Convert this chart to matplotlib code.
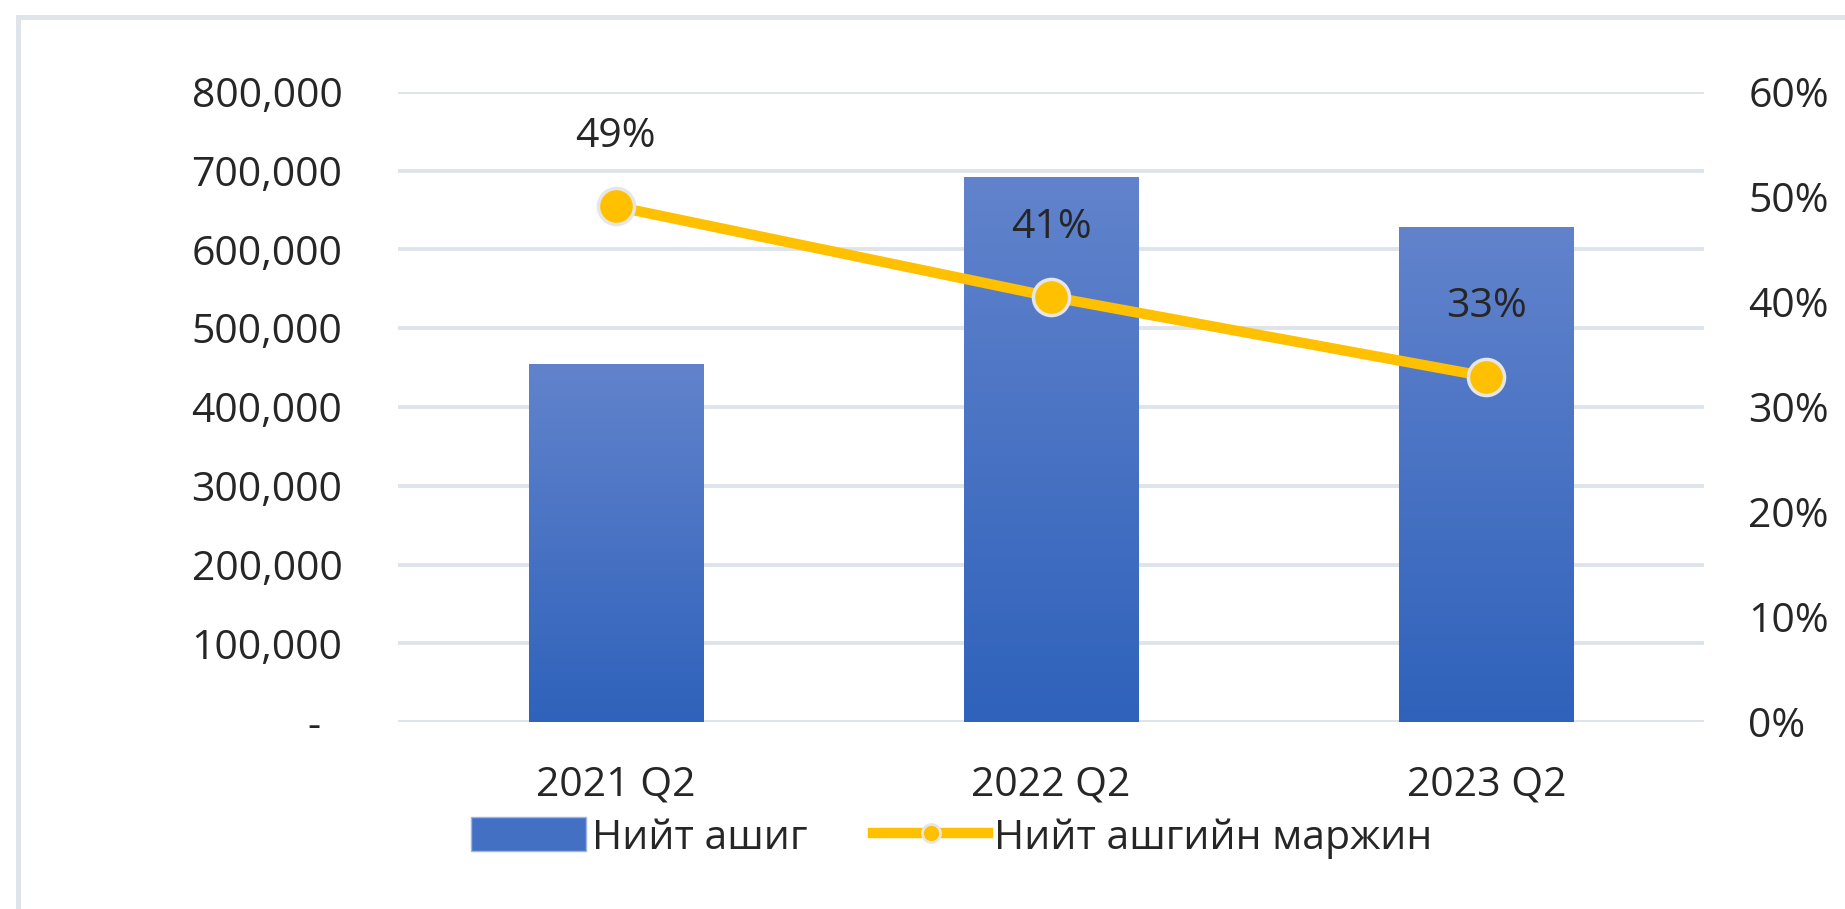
import matplotlib
matplotlib.use("Agg")
import matplotlib.pyplot as plt
import numpy as np
from matplotlib.patches import Rectangle
from matplotlib.lines import Line2D
from matplotlib.colors import LinearSegmentedColormap

plt.rcParams['font.family'] = ['Open Sans', 'DejaVu Sans']

# data
categories = ['2021 Q2', '2022 Q2', '2023 Q2']
profit = [455000, 692000, 628000]
margin = [0.491, 0.405, 0.329]
margin_labels = ['49%', '41%', '33%']
left_ticks = [0, 100000, 200000, 300000, 400000, 500000, 600000, 700000, 800000]
right_ticks = [0, 0.1, 0.2, 0.3, 0.4, 0.5, 0.6]
series_names = ['Нийт ашиг', 'Нийт ашгийн маржин']

bar_top = '#6283cc'
bar_bottom = '#2f62bb'
line_color = '#ffc000'
grid_color = '#dfe3ea'
text_color = '#262626'
fs = 29.5

dpi = 100
fig = plt.figure(figsize=(1845/dpi, 909/dpi), dpi=dpi)
ax = fig.add_axes([398/1845, 1-722/909, (1704-398)/1845, (722-92)/909])

# chart border (cropped on the right and bottom)
fig.patches.append(Rectangle((18/1845, -0.1), 1.2, 1.1 - 17/909, transform=fig.transFigure,
                             fill=False, edgecolor=grid_color, linewidth=3.6, zorder=0))

x = np.arange(len(categories))
width = 0.4
cmap = LinearSegmentedColormap.from_list('bar', [bar_bottom, bar_top])
grad = np.linspace(0, 1, 256).reshape(-1, 1)
bars = ax.bar(x, profit, width, color=bar_top, zorder=2)
for b in bars:
    bx, by = b.get_x(), b.get_y()
    im = ax.imshow(grad, cmap=cmap, origin='lower', aspect='auto', zorder=2.1,
                   extent=[bx, bx + b.get_width(), by, by + b.get_height()])
    im.set_clip_path(b)

ax.set_xlim(-0.5, 2.5)
ax.set_ylim(0, 800000)
ax.set_yticks(left_ticks)
ax.set_yticklabels(['-  '] + [f'{v:,}' for v in left_ticks[1:]])
ax.set_xticks(x)
ax.set_xticklabels(categories)
ax.yaxis.grid(True, color=grid_color, linewidth=2.8, zorder=0)
ax.set_axisbelow(True)
for s in ax.spines.values():
    s.set_visible(False)
ax.tick_params(axis='y', length=0, pad=40, labelsize=fs, labelcolor=text_color)
ax.tick_params(axis='x', length=0, pad=31, labelsize=fs, labelcolor=text_color)

ax2 = ax.twinx()
ax2.set_ylim(0, 0.6)
ax2.set_yticks(right_ticks)
ax2.set_yticklabels([f'{int(round(v*100))}%' for v in right_ticks])
ax2.tick_params(axis='y', length=0, pad=32, labelsize=fs, labelcolor=text_color)
for s in ax2.spines.values():
    s.set_visible(False)
ax2.plot(x, margin, color=line_color, linewidth=7.5, marker='o', markersize=26,
         markerfacecolor=line_color, markeredgecolor='#e6e6e6', markeredgewidth=2.5,
         solid_capstyle='butt', zorder=3)
for xi, m, lab in zip(x, margin, margin_labels):
    ax2.annotate(lab, (xi, m), xytext=(0, 50), textcoords='offset points',
                 ha='center', va='center', fontsize=fs, color=text_color)

handles = [Rectangle((0, 0), 1, 1, facecolor='#4470c4', edgecolor='#9db3e0', linewidth=1),
           Line2D([], [], color=line_color, linewidth=7.5, marker='o', markersize=13,
                  markerfacecolor=line_color, markeredgecolor='#e6e6e6', markeredgewidth=2)]
fig.legend(handles, series_names, loc='center',
           bbox_to_anchor=(952/1845, 1-838/909), ncol=2, frameon=False,
           fontsize=fs, handlelength=2.8, handleheight=0.9, handletextpad=0.15,
           columnspacing=1.6, labelcolor=text_color)

fig.savefig('out.png', dpi=dpi, facecolor='white')
